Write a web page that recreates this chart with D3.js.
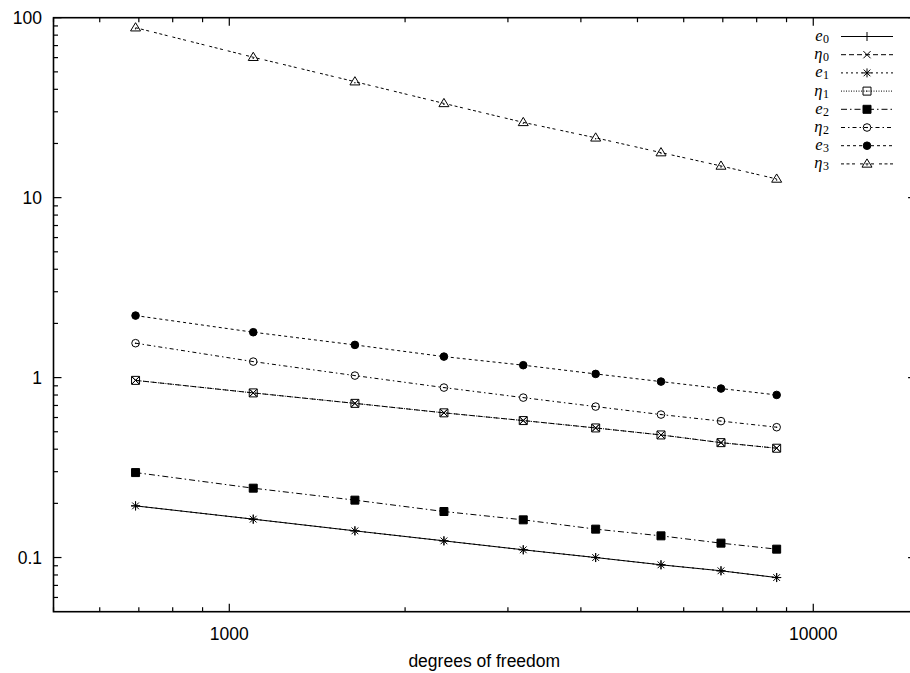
<!DOCTYPE html>
<html>
<head>
<meta charset="utf-8">
<script src="https://cdn.jsdelivr.net/npm/d3@7"></script>
<style>
  html, body { margin: 0; padding: 0; background: #fff; }
  svg { display: block; }
  .tick-label { font-family: "Liberation Sans", Arial, sans-serif; font-size: 17.5px; fill: #000; }
  .key-label { font-family: "Liberation Serif", "DejaVu Serif", serif; fill: #000; }
</style>
</head>
<body>
<svg id="chart" width="910" height="673"></svg>
<script>
// Degrees of freedom for each refinement step
const dofs = [691, 1099, 1641, 2331, 3187, 4240, 5486, 6950, 8656];

// Errors and estimators per polynomial degree
const e0   = [0.1937, 0.1634, 0.1407, 0.1238, 0.1104, 0.1000, 0.0911, 0.0844, 0.0774];
const eta0 = [0.965, 0.822, 0.719, 0.637, 0.577, 0.525, 0.480, 0.435, 0.405];
const e1   = [0.1937, 0.1634, 0.1407, 0.1238, 0.1104, 0.1000, 0.0911, 0.0844, 0.0774];
const eta1 = [0.965, 0.822, 0.719, 0.637, 0.577, 0.525, 0.480, 0.435, 0.405];
const e2   = [0.2966, 0.2429, 0.2084, 0.1802, 0.1620, 0.1438, 0.1320, 0.1202, 0.1113];
const eta2 = [1.553, 1.227, 1.026, 0.880, 0.774, 0.690, 0.623, 0.573, 0.530];
const e3   = [2.211, 1.787, 1.519, 1.308, 1.172, 1.048, 0.950, 0.869, 0.801];
const eta3 = [88.0, 60.3, 44.1, 33.4, 26.2, 21.5, 17.8, 15.0, 12.7];

// Axis ticks
const xMajorTicks = [1000, 10000];
const xTickLabels = ["1000", "10000"];
const yMajorTicks = [0.1, 1, 10, 100];
const yTickLabels = ["0.1", "1", "10", "100"];
const xTitle = "degrees of freedom";

// Legend entries: symbol letter, subscript, values, marker, dash pattern
const seriesNames = [["e", "0"], ["η", "0"], ["e", "1"], ["η", "1"], ["e", "2"], ["η", "2"], ["e", "3"], ["η", "3"]];
const seriesValues = [e0, eta0, e1, eta1, e2, eta2, e3, eta3];
const seriesMarkers = ["plus", "cross", "star", "box", "boxfill", "circle", "circlefill", "triangle"];
const seriesDashes = [null, "5,3", "2,3", "1,1.5", "6,3,1.5,3", "4,3,1.5,3", "3,3", "3,2.5,3,2.5,3,5"];

const svg = d3.select("#chart");
const plot = { left: 53.5, right: 916.1, top: 17.7, bottom: 611.7 };

const x = d3.scaleLog().domain([500, 15000]).range([plot.left, plot.right]);
const y = d3.scaleLog().domain([0.05, 100]).range([plot.bottom, plot.top]);

// Minor ticks on each decade
function minorTicks(lo, hi) {
  const out = [];
  for (let p = Math.floor(Math.log10(lo)); p <= Math.ceil(Math.log10(hi)); p++) {
    for (let m = 2; m <= 9; m++) {
      const v = m * Math.pow(10, p);
      if (v > lo && v < hi) out.push(v);
    }
  }
  return out;
}
const xMinor = minorTicks(500, 15000).concat([500]);
const yMinor = minorTicks(0.05, 100);

const axisG = svg.append("g").attr("stroke", "#000").attr("stroke-width", 1.2);
const MAJ = 8, MIN = 4.5;

// bottom and top ticks
xMajorTicks.forEach(v => {
  axisG.append("line").attr("x1", x(v)).attr("x2", x(v)).attr("y1", plot.bottom).attr("y2", plot.bottom - MAJ);
  axisG.append("line").attr("x1", x(v)).attr("x2", x(v)).attr("y1", plot.top).attr("y2", plot.top + MAJ);
});
xMinor.forEach(v => {
  axisG.append("line").attr("x1", x(v)).attr("x2", x(v)).attr("y1", plot.bottom).attr("y2", plot.bottom - MIN);
  axisG.append("line").attr("x1", x(v)).attr("x2", x(v)).attr("y1", plot.top).attr("y2", plot.top + MIN);
});
// left and right ticks
yMajorTicks.forEach(v => {
  axisG.append("line").attr("x1", plot.left).attr("x2", plot.left + MAJ).attr("y1", y(v)).attr("y2", y(v));
  axisG.append("line").attr("x1", plot.right).attr("x2", plot.right - MAJ).attr("y1", y(v)).attr("y2", y(v));
});
yMinor.forEach(v => {
  axisG.append("line").attr("x1", plot.left).attr("x2", plot.left + MIN).attr("y1", y(v)).attr("y2", y(v));
  axisG.append("line").attr("x1", plot.right).attr("x2", plot.right - MIN).attr("y1", y(v)).attr("y2", y(v));
});

// frame
svg.append("rect")
  .attr("x", plot.left).attr("y", plot.top)
  .attr("width", plot.right - plot.left).attr("height", plot.bottom - plot.top)
  .attr("fill", "none").attr("stroke", "#000").attr("stroke-width", 1.6);

// tick labels
xMajorTicks.forEach((v, i) => {
  svg.append("text").attr("class", "tick-label")
    .attr("x", x(v)).attr("y", 640).attr("text-anchor", "middle").text(xTickLabels[i]);
});
yMajorTicks.forEach((v, i) => {
  svg.append("text").attr("class", "tick-label")
    .attr("x", 42).attr("y", y(v)).attr("dy", "0.36em").attr("text-anchor", "end").text(yTickLabels[i]);
});
svg.append("text").attr("class", "tick-label")
  .attr("x", (x(1000) + x(10000)) / 2 - 37).attr("y", 667).attr("text-anchor", "middle").text(xTitle);

// marker shapes, drawn around (0,0)
function markerPath(kind) {
  const h = 4.5;
  switch (kind) {
    case "plus": return `M${-h},0H${h}M0,${-h}V${h}`;
    case "cross": return `M${-h * 0.8},${-h * 0.8}L${h * 0.8},${h * 0.8}M${-h * 0.8},${h * 0.8}L${h * 0.8},${-h * 0.8}`;
    case "star": return `M${-h},0H${h}M0,${-h}V${h}M${-h * 0.75},${-h * 0.75}L${h * 0.75},${h * 0.75}M${-h * 0.75},${h * 0.75}L${h * 0.75},${-h * 0.75}`;
    case "box":
    case "boxfill": { const s = 4; return `M${-s},${-s}H${s}V${s}H${-s}Z`; }
    case "circle":
    case "circlefill": { const r = 3.8; return `M${r},0A${r},${r} 0 1 1 ${-r},0A${r},${r} 0 1 1 ${r},0Z`; }
    case "triangle": { const t = 5; return `M0,${-t}L${t},${t * 0.65}L${-t},${t * 0.65}Z`; }
  }
}
function drawMarker(g, kind, cx, cy) {
  const filled = kind === "boxfill" || kind === "circlefill";
  g.append("path")
    .attr("transform", `translate(${cx},${cy})`)
    .attr("d", markerPath(kind))
    .attr("fill", filled ? "#000" : "none")
    .attr("stroke", "#000")
    .attr("stroke-width", 1);
  if (kind === "circle" || kind === "triangle" || kind === "box") {
    g.append("circle").attr("cx", cx).attr("cy", cy + (kind === "triangle" ? 1 : 0)).attr("r", 0.7).attr("fill", "#000");
  }
}

const line = d3.line().x(d => x(d[0])).y(d => y(d[1]));
const dataG = svg.append("g");

seriesValues.forEach((vals, i) => {
  const pts = dofs.map((d, j) => [d, vals[j]]);
  const g = dataG.append("g");
  g.append("path").datum(pts)
    .attr("d", line)
    .attr("fill", "none").attr("stroke", "#000").attr("stroke-width", 1)
    .attr("stroke-dasharray", seriesDashes[i]);
  pts.forEach(p => drawMarker(g, seriesMarkers[i], x(p[0]), y(p[1])));
  // the cross-in-box look for the overlapping estimator lines
  if (seriesMarkers[i] === "box") {
    pts.forEach(p => drawMarker(g, "cross", x(p[0]), y(p[1])));
  }
});

// key: letter and subscript as separate text runs so rows stay compact
const keyG = svg.append("g");
const keyTop = 36.5, keyStep = 18.2, keyTextX = 829, keyLineX1 = 841, keyLineX2 = 893;
seriesNames.forEach((nm, i) => {
  const cy = keyTop + i * keyStep;
  const sub = keyG.append("text").attr("class", "key-label")
    .attr("x", keyTextX).attr("y", cy + 6.5).attr("font-size", 12)
    .attr("text-anchor", "end").text(nm[1]);
  const subW = sub.node().getComputedTextLength();
  keyG.append("text").attr("class", "key-label")
    .attr("x", keyTextX - subW - 0.5).attr("y", cy + 4.5).attr("font-size", 16.5)
    .attr("font-style", "italic").attr("text-anchor", "end").text(nm[0]);
  keyG.append("line")
    .attr("x1", keyLineX1).attr("x2", keyLineX2).attr("y1", cy).attr("y2", cy)
    .attr("stroke", "#000").attr("stroke-width", 1)
    .attr("stroke-dasharray", seriesDashes[i]);
  drawMarker(keyG, seriesMarkers[i], (keyLineX1 + keyLineX2) / 2, cy);
});
</script>
</body>
</html>
